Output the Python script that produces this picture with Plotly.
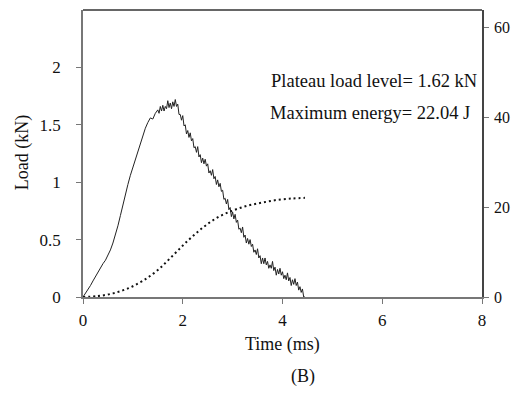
import plotly.graph_objects as go

# Load (kN) vs time (ms) (noise hand-estimated)
load_time = [0.00, 0.05, 0.10, 0.15, 0.20, 0.25, 0.30, 0.35, 0.40, 0.45, 0.50, 0.55, 0.60, 0.65, 0.70,
             0.75, 0.80, 0.85, 0.90, 0.95, 1.00, 1.05, 1.10, 1.15, 1.20, 1.25, 1.30, 1.35, 1.40, 1.45,
             1.500, 1.525, 1.550, 1.575, 1.600, 1.625, 1.650, 1.675, 1.700, 1.725, 1.750, 1.775,
             1.800, 1.825, 1.850, 1.875, 1.900, 1.925, 1.950, 1.975, 2.000, 2.025, 2.050, 2.075,
             2.100, 2.125, 2.150, 2.175, 2.200, 2.225, 2.250, 2.275, 2.300, 2.325, 2.350, 2.375,
             2.400, 2.425, 2.450, 2.475, 2.500, 2.525, 2.550, 2.575, 2.600, 2.625, 2.650, 2.675,
             2.700, 2.725, 2.750, 2.775, 2.800, 2.825, 2.850, 2.875, 2.900, 2.925, 2.950, 2.975,
             3.000, 3.025, 3.050, 3.075, 3.100, 3.125, 3.150, 3.175, 3.200, 3.225, 3.250, 3.275,
             3.300, 3.325, 3.350, 3.375, 3.400, 3.425, 3.450, 3.475, 3.500, 3.525, 3.550, 3.575,
             3.600, 3.625, 3.650, 3.675, 3.700, 3.725, 3.750, 3.775, 3.800, 3.825, 3.850, 3.875,
             3.900, 3.925, 3.950, 3.975, 4.000, 4.025, 4.050, 4.075, 4.100, 4.125, 4.150, 4.175,
             4.200, 4.225, 4.250, 4.275, 4.300, 4.325, 4.350, 4.375, 4.400, 4.425, 4.450]
load_kn = [0.00, 0.03, 0.07, 0.10, 0.14, 0.18, 0.22, 0.26, 0.29, 0.32, 0.36, 0.41, 0.47, 0.54, 0.62,
           0.71, 0.80, 0.91, 0.98, 1.06, 1.13, 1.21, 1.27, 1.34, 1.41, 1.47, 1.52, 1.56, 1.55, 1.60,
           1.63, 1.60, 1.66, 1.62, 1.67, 1.62, 1.66, 1.64, 1.71, 1.65, 1.69, 1.64,
           1.70, 1.66, 1.72, 1.66, 1.68, 1.59, 1.59, 1.54, 1.58, 1.49, 1.50, 1.42,
           1.45, 1.39, 1.43, 1.36, 1.38, 1.30, 1.31, 1.26, 1.31, 1.22, 1.24, 1.17,
           1.21, 1.16, 1.20, 1.14, 1.16, 1.08, 1.10, 1.06, 1.11, 1.03, 1.05, 0.98,
           1.02, 0.96, 0.99, 0.92, 0.93, 0.85, 0.86, 0.81, 0.85, 0.76, 0.78, 0.70,
           0.74, 0.68, 0.72, 0.65, 0.67, 0.59, 0.60, 0.56, 0.61, 0.52, 0.54, 0.47,
           0.51, 0.46, 0.50, 0.44, 0.46, 0.39, 0.41, 0.37, 0.42, 0.34, 0.36, 0.29,
           0.34, 0.29, 0.34, 0.28, 0.31, 0.25, 0.28, 0.25, 0.31, 0.23, 0.26, 0.19,
           0.24, 0.20, 0.25, 0.19, 0.22, 0.16, 0.19, 0.15, 0.21, 0.14, 0.17, 0.10,
           0.15, 0.11, 0.16, 0.10, 0.13, 0.06, 0.09, 0.04, 0.07, 0.00, 0.00]

# Energy (J) vs time (ms)
energy_time = [0.0, 0.3, 0.6, 0.9, 1.2, 1.5, 1.8, 2.1, 2.4, 2.7, 3.0, 3.3, 3.6, 3.9, 4.2, 4.45]
energy_j = [0.0, 0.2, 0.8, 1.9, 3.6, 6.0, 9.2, 12.5, 15.4, 17.7, 19.2, 20.3, 21.0, 21.6, 21.9, 22.04]

x_ticks = [0, 2, 4, 6, 8]
load_ticks = [0, 0.5, 1, 1.5, 2]
load_tick_text = ["0", "0.5", "1", "1.5", "2"]
energy_ticks = [0, 20, 40, 60]

FONT = "Liberation Serif, Times New Roman, serif"
INK = "#111111"

fig = go.Figure()
fig.add_trace(go.Scatter(x=load_time, y=load_kn, mode="lines",
                         line=dict(color="#222222", width=1), yaxis="y"))
fig.add_trace(go.Scatter(x=energy_time, y=energy_j, mode="lines", line_shape="spline",
                         line=dict(color=INK, width=2, dash="2px,3px"), yaxis="y2"))

# the page has an 8px body margin: the figure is sized so the page does not overflow
# the window, and offset so the plot lands at the reference positions
fig.update_layout(
    width=511, height=378,
    margin=dict(l=74.5, r=36.7, t=1.5, b=89, autoexpand=False),
    paper_bgcolor="white", plot_bgcolor="white",
    showlegend=False,
    font=dict(family=FONT, size=17, color=INK),
    xaxis=dict(range=[0, 8], tickvals=x_ticks, showgrid=False, zeroline=False,
               showline=True, linecolor="#777777", linewidth=1.5,
               ticks="outside", ticklen=5, tickcolor="#777777", ticklabelstandoff=2),
    yaxis=dict(range=[0, 2.5], tickvals=load_ticks, ticktext=load_tick_text,
               showgrid=False, zeroline=False,
               showline=True, linecolor="#777777", linewidth=1.5,
               ticks="outside", ticklen=5, tickcolor="#777777", ticklabelstandoff=12),
    yaxis2=dict(range=[0, 63.8], tickvals=energy_ticks, overlaying="y", side="right",
                showgrid=False, zeroline=False,
                showline=True, linecolor="#444444", linewidth=1.5,
                ticks="outside", ticklen=5, tickcolor="#777777", ticklabelstandoff=2,
                tickfont=dict(size=16)),
)

fig.add_shape(type="line", xref="paper", yref="paper", x0=0, x1=1, y0=1, y1=1,
              line=dict(color="#333333", width=1.5))

fig.add_annotation(x=7.93, y=1.878, xref="x", yref="y", text="Plateau load level= 1.62 kN",
                   showarrow=False, xanchor="right", yanchor="middle", font=dict(size=18.5))
fig.add_annotation(x=7.79, y=1.603, xref="x", yref="y", text="Maximum energy= 22.04 J",
                   showarrow=False, xanchor="right", yanchor="middle", font=dict(size=18.5))
fig.add_annotation(x=0.5003, y=-0.167, xref="paper", yref="paper", text="Time (ms)",
                   showarrow=False, xanchor="center", yanchor="middle", font=dict(size=18))
fig.add_annotation(x=-0.1526, y=0.501, xref="paper", yref="paper", text="Load (kN)",
                   textangle=-90, showarrow=False, xanchor="center", yanchor="middle",
                   font=dict(size=18))
fig.add_annotation(x=0.551, y=-0.278, xref="paper", yref="paper", text="(B)",
                   showarrow=False, xanchor="center", yanchor="middle", font=dict(size=18))

fig.write_html("out.html")
